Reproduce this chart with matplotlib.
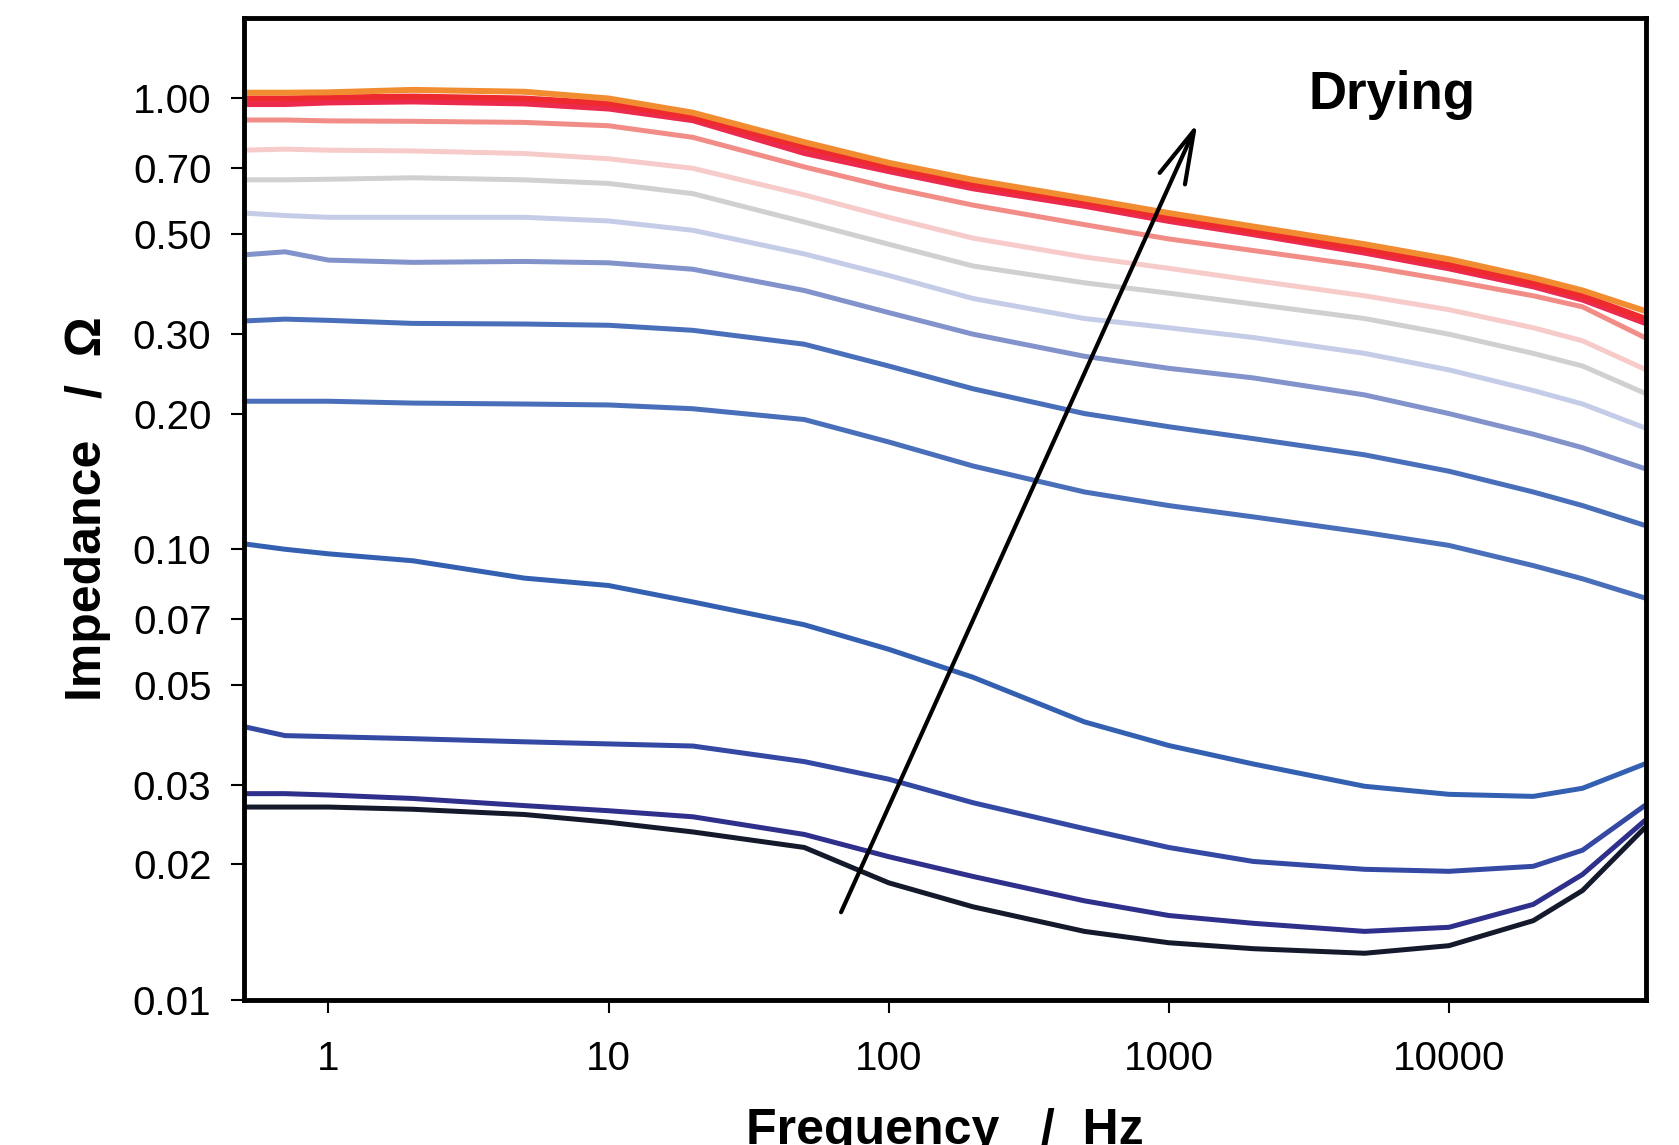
import matplotlib
matplotlib.use("Agg")
import matplotlib.pyplot as plt
from matplotlib.ticker import FixedLocator, NullLocator

# frequency grid (Hz) the curves were read at
freq = [0.5, 0.7, 1, 2, 5, 10, 20, 50, 100, 200, 500, 1000, 2000, 5000,
        10000, 20000, 30000, 50000]

# impedance (Ohm), from wettest (bottom) to driest (top)
z_black = [0.0268, 0.0268, 0.0268, 0.0265, 0.0258, 0.0248, 0.0236, 0.0218, 0.0182, 0.0161,
           0.0142, 0.0134, 0.0130, 0.0127, 0.0132, 0.0150, 0.0175, 0.0241]
z_indigo = [0.0287, 0.0287, 0.0285, 0.0280, 0.0270, 0.0263, 0.0255, 0.0233, 0.0208, 0.0188,
            0.0166, 0.0154, 0.0148, 0.0142, 0.0145, 0.0163, 0.0190, 0.0250]
z_blue4 = [0.0404, 0.0386, 0.0384, 0.0380, 0.0374, 0.0370, 0.0366, 0.0338, 0.0309, 0.0274,
           0.0240, 0.0218, 0.0203, 0.0195, 0.0193, 0.0198, 0.0215, 0.0270]
z_blue3 = [0.1028, 0.1000, 0.0977, 0.0943, 0.0863, 0.0831, 0.0764, 0.0680, 0.0600, 0.0520,
           0.0414, 0.0367, 0.0334, 0.0298, 0.0286, 0.0283, 0.0295, 0.0334]
z_blue2 = [0.213, 0.213, 0.213, 0.211, 0.210, 0.209, 0.205, 0.194, 0.173, 0.153,
           0.134, 0.125, 0.118, 0.109, 0.102, 0.092, 0.086, 0.078]
z_blue1 = [0.321, 0.324, 0.322, 0.317, 0.316, 0.314, 0.306, 0.285, 0.255, 0.227,
           0.200, 0.187, 0.176, 0.162, 0.149, 0.134, 0.125, 0.113]
z_peri = [0.450, 0.457, 0.438, 0.433, 0.435, 0.432, 0.418, 0.375, 0.335, 0.300,
          0.268, 0.252, 0.240, 0.220, 0.200, 0.180, 0.168, 0.151]
z_lav = [0.557, 0.550, 0.545, 0.545, 0.545, 0.535, 0.510, 0.452, 0.405, 0.360,
         0.325, 0.310, 0.295, 0.272, 0.250, 0.225, 0.210, 0.186]
z_gray = [0.660, 0.660, 0.662, 0.667, 0.660, 0.648, 0.615, 0.532, 0.475, 0.425,
          0.390, 0.370, 0.350, 0.325, 0.300, 0.272, 0.255, 0.222]
z_pink = [0.768, 0.772, 0.768, 0.765, 0.755, 0.735, 0.700, 0.611, 0.545, 0.490,
          0.445, 0.420, 0.395, 0.365, 0.340, 0.310, 0.290, 0.251]
z_salmon = [0.896, 0.896, 0.892, 0.890, 0.885, 0.870, 0.820, 0.705, 0.635, 0.580,
            0.525, 0.488, 0.460, 0.425, 0.395, 0.365, 0.345, 0.295]
z_red2 = [0.972, 0.972, 0.980, 0.985, 0.975, 0.950, 0.895, 0.757, 0.690, 0.632,
          0.578, 0.535, 0.500, 0.455, 0.420, 0.383, 0.358, 0.318]
z_red1 = [1.000, 1.000, 1.005, 1.010, 1.000, 0.975, 0.910, 0.780, 0.705, 0.645,
          0.590, 0.545, 0.508, 0.463, 0.428, 0.390, 0.365, 0.325]
z_orange = [1.030, 1.030, 1.032, 1.045, 1.035, 1.000, 0.930, 0.800, 0.720, 0.660,
            0.600, 0.557, 0.520, 0.475, 0.440, 0.400, 0.375, 0.338]

curves = [z_black, z_indigo, z_blue4, z_blue3, z_blue2, z_blue1, z_peri, z_lav,
          z_gray, z_pink, z_salmon, z_red2, z_red1, z_orange]
colors = ["#141a2b", "#2f2f8c", "#3349a3", "#3460b2", "#4a6fba", "#4a6fba", "#8292cb",
          "#c5cce8", "#d0d0d0", "#f6cbc9", "#f28c87", "#ec2a4e", "#ee2a2f", "#f28c30"]
widths = [3.6] * 11 + [4.3, 4.3, 4.3]

ytick_vals = [0.01, 0.02, 0.03, 0.05, 0.07, 0.10, 0.20, 0.30, 0.50, 0.70, 1.00]
xtick_vals = [1, 10, 100, 1000, 10000]

font = ["Liberation Sans", "DejaVu Sans"]

fig = plt.figure(figsize=(16.79, 11.45), dpi=100)
ax = fig.add_axes([0.1454, 0.1266, 0.8349, 0.8575])

for z, c, lw in zip(curves, colors, widths):
    ax.plot(freq, z, color=c, lw=lw, solid_capstyle="round")

ax.set_xscale("log")
ax.set_yscale("log")
ax.set_xlim(0.5, 50500)
ax.set_ylim(0.01, 1.507)

ax.yaxis.set_major_locator(FixedLocator(ytick_vals))
ax.yaxis.set_minor_locator(NullLocator())
ax.set_yticklabels(["%.2f" % v for v in ytick_vals], family=font, fontsize=29)
ax.xaxis.set_major_locator(FixedLocator(xtick_vals))
ax.xaxis.set_minor_locator(NullLocator())
ax.set_xticklabels([str(v) for v in xtick_vals], family=font, fontsize=29)

ax.tick_params(axis="y", direction="out", length=9.5, width=1.5, pad=14)
ax.tick_params(axis="x", direction="out", length=9.5, width=1.5, pad=19)
for s in ax.spines.values():
    s.set_linewidth(3.5)

ax.set_xlabel("Frequency   /  Hz", family=font, fontsize=36, fontweight="bold")
ax.xaxis.set_label_coords(0.5, -0.110)
ax.set_ylabel("Impedance   /  Ω", family=font, fontsize=36, fontweight="bold")
ax.yaxis.set_label_coords(-0.095, 0.5)

ax.text(0.759, 0.908, "Drying", transform=ax.transAxes, family=font, fontsize=38,
        fontweight="bold", ha="left", va="baseline")
ax.annotate("", xy=(1265, 0.882), xytext=(67.6, 0.01566),
            arrowprops=dict(arrowstyle="->,head_length=1.9,head_width=0.5",
                            mutation_scale=20, lw=3, color="black",
                            shrinkA=0, shrinkB=0))

fig.savefig("out.png", dpi=100)
